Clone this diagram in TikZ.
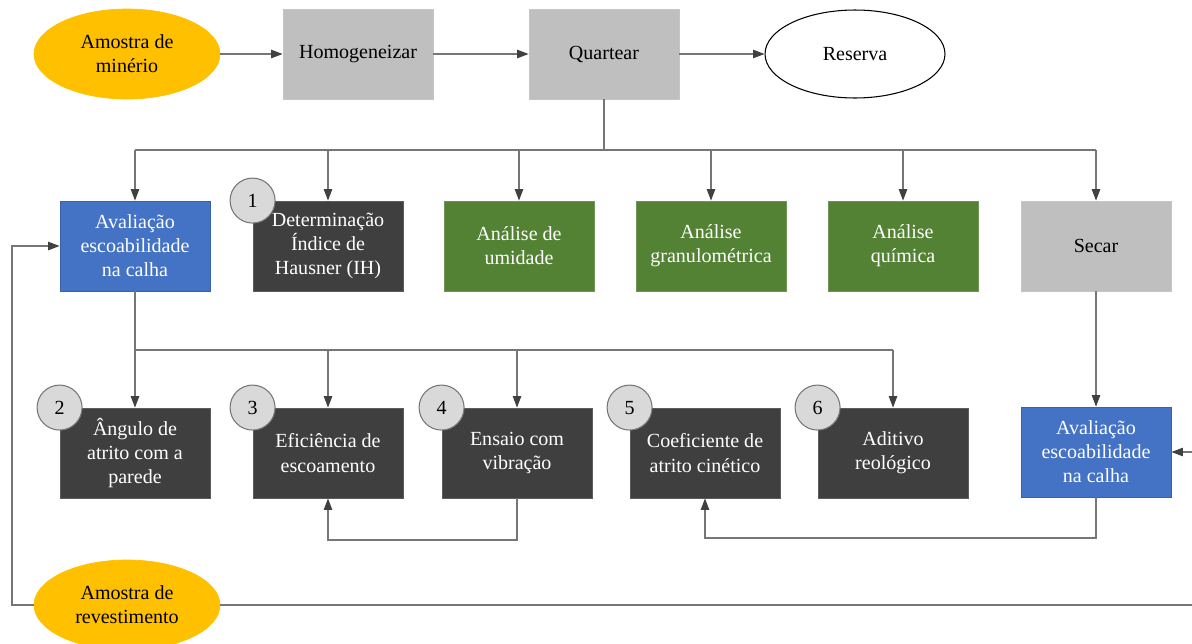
\documentclass[tikz,border=0pt]{standalone}
\usepackage{fontspec}
\setmainfont{Liberation Serif}
\usetikzlibrary{shapes.geometric,arrows.meta}

\definecolor{cgold}{HTML}{FFC000}
\definecolor{cblue}{HTML}{4472C4}
\definecolor{cdark}{HTML}{3F3F3F}
\definecolor{cgreen}{HTML}{548235}
\definecolor{cgray}{HTML}{BFBFBF}
\definecolor{cnum}{HTML}{D9D9D9}
\definecolor{cline}{HTML}{767676}
\definecolor{ctip}{HTML}{404040}

\newcommand{\boxfont}{\fontsize{11.4}{13.7}\selectfont}

\tikzset{
  x=0.02cm, y=-0.02cm,
  base/.style={rectangle, minimum width=3cm, minimum height=1.8cm,
    align=center, inner sep=2pt, font=\boxfont, line width=0.5pt},
  bluebox/.style={base, fill=cblue, draw=cblue!85!black, text=white},
  darkbox/.style={base, fill=cdark, draw=cdark!85!white, text=white},
  greenbox/.style={base, fill=cgreen, draw=cgreen!85!white, text=white},
  graybox/.style={base, fill=cgray, draw=cgray!90!white, text=black},
  oval/.style={ellipse, minimum width=3.72cm, minimum height=1.8cm,
    align=center, inner sep=0pt, font=\boxfont, fill=cgold, draw=cgold, text=black},
  whiteoval/.style={ellipse, minimum width=3.6cm, minimum height=1.76cm,
    align=center, inner sep=0pt, font=\boxfont, fill=white, draw=black, line width=0.6pt},
  numdot/.style={circle, minimum size=0.9cm, inner sep=0pt, fill=cnum,
    draw=cline, line width=0.6pt, font=\boxfont},
  ln/.style={draw=cline, line width=0.6pt},
  arr/.style={ln, -{Triangle[length=6.5pt,width=4.8pt,color=ctip]}},
}

\begin{document}
\begin{tikzpicture}
\useasboundingbox (0,0) rectangle (1192,643);
\clip (0,0) rectangle (1192,643);

% top row
\node[oval] (min) at (127,54) {Amostra de\\minério};
\node[graybox] (hom) at (358,54) {Homogeneizar};
\node[graybox] (qua) at (604,54) {Quartear};
\node[whiteoval] (res) at (855,54) {Reserva};

% second row
\node[bluebox]  (av1) at (135,246) {Avaliação\\escoabilidade\\na calha};
\node[darkbox]  (ih)  at (328,246) {Determinação\\Índice de\\Hausner (IH)};
\node[greenbox] (umi) at (519,246) {Análise de\\umidade};
\node[greenbox] (gra) at (711,246) {Análise\\granulométrica};
\node[greenbox] (qui) at (903,246) {Análise\\química};
\node[graybox]  (sec) at (1096,246) {Secar};

% third row
\node[darkbox] (ang) at (135,453) {Ângulo de\\atrito com a\\parede};
\node[darkbox] (efi) at (328,453) {Eficiência de\\escoamento};
\node[darkbox] (ens) at (517,453) {Ensaio com\\vibração};
\node[darkbox] (coe) at (705,453) {Coeficiente de\\atrito cinético};
\node[darkbox] (adi) at (893,453) {Aditivo\\reológico};
\node[bluebox] (av2) at (1096,452) {Avaliação\\escoabilidade\\na calha};

% coating sample
\node[oval] (rev) at (127,605) {Amostra de\\revestimento};

% numbered markers
\node[numdot] (n1) at (ih.north west)  {1};
\node[numdot] (n2) at (ang.north west) {2};
\node[numdot] (n3) at (efi.north west) {3};
\node[numdot] (n4) at (ens.north west) {4};
\node[numdot] (n5) at (coe.north west) {5};
\node[numdot] (n6) at (adi.north west) {6};

% top flow
\draw[arr] (min) -- (hom);
\draw[arr] (hom) -- (qua);
\draw[arr] (qua) -- (res);

% distribution bus below Quartear
\coordinate (busA) at (135,150);
\coordinate (busB) at (1096,150);
\draw[ln] (qua.south) -- (qua.south |- busA);
\draw[ln] (busA) -- (busB);
\foreach \n in {av1,ih,umi,gra,qui,sec}
  \draw[arr] (\n.north |- busA) -- (\n.north);

% tests fed by the chute evaluation
\coordinate (busC) at (135,350);
\coordinate (busD) at (893,350);
\draw[ln] (av1.south) -- (busC) -- (busD);
\foreach \n in {ang,efi,ens,adi}
  \draw[arr] (\n.north |- busC) -- (\n.north);

% feedback loops
\coordinate (loopA) at (517,540);
\draw[arr] (ens.south) -- (loopA) -| (efi.south);
\coordinate (loopB) at (1096,538);
\draw[arr] (av2.south) -- (loopB) -| (coe.south);
\draw[arr] (sec) -- (av2);

% coating sample feeds both evaluations
\coordinate (leftC) at (12,605);
\draw[arr] (rev.west) -- (leftC) |- (av1.west);
\coordinate (rightC) at (1200,605);
\draw[arr] (rev.east) -- (rightC) |- (av2.east);
\end{tikzpicture}
\end{document}
